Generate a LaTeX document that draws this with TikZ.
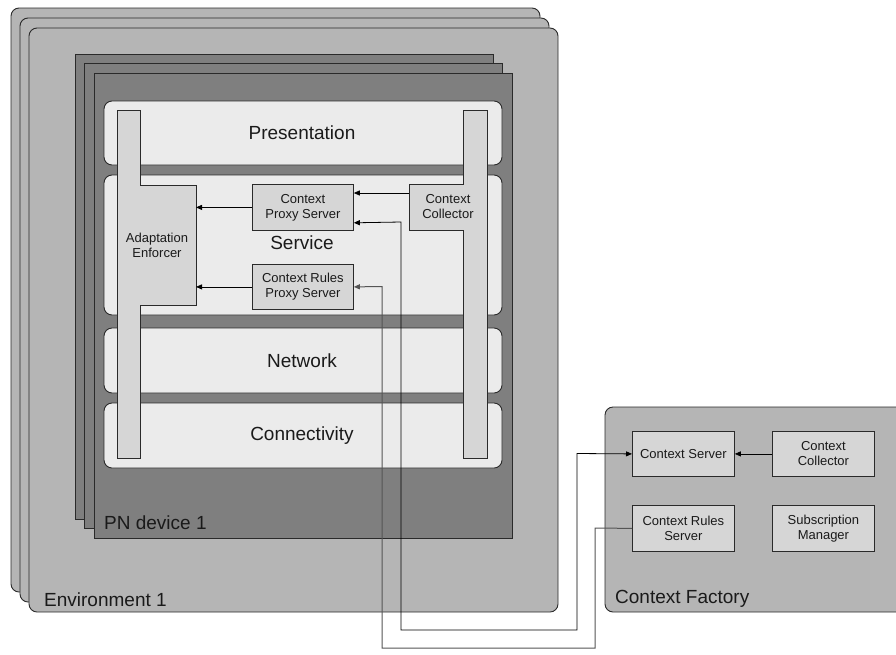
\documentclass[tikz,border=0pt]{standalone}
\usepackage{fontspec}
\setmainfont{Liberation Sans}
\usetikzlibrary{arrows.meta,calc}
\definecolor{envfill}{HTML}{B5B5B5}
\definecolor{devfill}{HTML}{7F7F7F}
\definecolor{layerfill}{HTML}{EBEBEB}
\definecolor{compfill}{HTML}{D6D6D6}
\definecolor{edge}{HTML}{2A2A2A}
\definecolor{greyline}{HTML}{555555}
\definecolor{txt}{HTML}{1A1A1A}
\begin{document}
\begin{tikzpicture}[x=1pt,y=-1pt,
  env/.style={draw=edge,fill=envfill,rounded corners=8pt,line width=0.9pt},
  dev/.style={draw=edge,fill=devfill,line width=0.9pt},
  layer/.style={draw=edge,fill=layerfill,rounded corners=8pt,line width=0.9pt},
  bar/.style={draw=edge,fill=compfill,line width=0.8pt},
  big/.style={font=\fontsize{19}{22}\selectfont,text=txt,inner sep=0pt},
  small/.style={font=\fontsize{13}{15}\selectfont,text=txt,align=center,inner sep=0pt},
  comp/.style={small,draw=edge,fill=compfill,line width=0.8pt,anchor=north west},
  arr/.style={-{Triangle[length=6pt,width=5pt]},line width=0.8pt,draw=black},
  darr/.style={{Triangle[length=6pt,width=5pt]}-{Triangle[length=6pt,width=5pt]},line width=0.8pt,draw=black},
  garr/.style={{Triangle[length=6pt,width=5pt]}-,line width=1pt,draw=greyline}
]
\useasboundingbox (0,0) rectangle (896,654);

% Environment stack
\draw[env] (11,8) rectangle (540,592);
\draw[env] (20,18) rectangle (549,602);
\draw[env] (29,28) rectangle (558,612);
\node[big,anchor=west] (envlabel) at (44,600) {Environment 1};

% PN device stack
\draw[dev] (75,54) rectangle (493,519);
\draw[dev] (84,63) rectangle (502,528);
\draw[dev] (94,73) rectangle (512,538);
\node[big,anchor=west] (devlabel) at (104,523) {PN device 1};

% Layers
\draw[layer] (104,101) rectangle (502,165);
\draw[layer] (104,175) rectangle (502,315);
\draw[layer] (104,328) rectangle (502,393);
\draw[layer] (104,403) rectangle (502,468);
\node[big] (pres) at (302,133) {Presentation};
\node[big] (serv) at (302,243) {Service};
\node[big] (net) at (302,361) {Network};
\node[big] (conn) at (302,436) {Connectivity};

% Adaptation Enforcer
\draw[bar] (117,110) -- (140,110) -- (140,185) -- (196,185) -- (196,305)
  -- (140,305) -- (140,458) -- (117,458) -- cycle;
\node[small] (ae) at (157,245) {Adaptation\\Enforcer};
\coordinate (aeR) at (196,245);

% Context Collector (device)
\draw[bar] (463,110) -- (487,110) -- (487,458) -- (463,458) -- (463,230)
  -- (409,230) -- (409,184) -- (463,184) -- cycle;
\node[small] (ccol) at (448,207) {Context\\Collector};
\coordinate (ccolL) at (409,193);

% Service components
\node[comp,minimum width=101pt,minimum height=46pt] (cps) at (252,184) {Context\\Proxy Server};
\node[comp,minimum width=101pt,minimum height=45pt] (crps) at (252,264) {Context Rules\\Proxy Server};

% Context Factory
\draw[env] (605,407) rectangle (912,612);
\node[big,anchor=west] (cflabel) at (615,599) {Context Factory};
\node[comp,minimum width=102pt,minimum height=45pt] (cs) at (632,431) {Context Server};
\node[comp,minimum width=102pt,minimum height=45pt] (fcc) at (772,431) {Context\\Collector};
\node[comp,minimum width=102pt,minimum height=46pt] (crs) at (632,505) {Context Rules\\Server};
\node[comp,minimum width=102pt,minimum height=46pt] (sm) at (772,505) {Subscription\\Manager};

% Connectors inside device
\draw[arr] (ccolL) -- (ccolL -| cps.east);
\draw[arr] (cps.west) -- (cps.west -| aeR);
\draw[arr] (crps.west) -- (crps.west -| aeR);

% Connectors in factory
\draw[arr] (fcc.west) -- (cs.east);

% Long connectors
\coordinate (cpsin) at ($(cps.south east)+(0,-8)$);
\coordinate (crpsin) at (crps.east);
\draw[darr] (cpsin) -- (401,222) -- (401,630) -- (577,630) -- (577,453.5) -- (cs.west);
\draw[garr] (crpsin) -- (382,286.5) -- (382,648) -- (595,648) -- (595,528) -- (crs.west);
\end{tikzpicture}
\end{document}
